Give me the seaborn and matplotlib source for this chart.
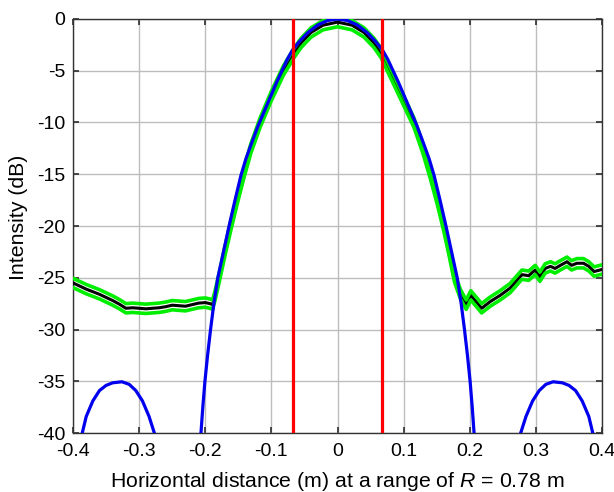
import numpy as np
import pandas as pd
import matplotlib
matplotlib.use("Agg")
import matplotlib.pyplot as plt
import seaborn as sns

# ---------------- data ----------------
# theoretical beam pattern (blue): main lobe and two sidelobes
blue_main_x = [-0.2105, -0.209, -0.2065, -0.2037, -0.2005, -0.1965, -0.192, -0.187,
               -0.181, -0.1725, -0.164, -0.155, -0.146, -0.1385, -0.130, -0.120,
               -0.110, -0.100, -0.092, -0.084, -0.076, -0.068, -0.058, -0.045,
               -0.030, -0.015, 0.0,
               0.015, 0.030, 0.045, 0.058, 0.068, 0.076, 0.084, 0.092,
               0.100, 0.110, 0.120, 0.130, 0.1385, 0.146, 0.155, 0.164,
               0.1725, 0.181, 0.187, 0.192, 0.1965, 0.2005, 0.2037, 0.2065,
               0.209, 0.2105]
blue_main_db = [-46.0, -43.0, -40.0, -37.5, -35.0, -32.5, -30.0, -27.5,
                -25.0, -22.5, -20.0, -17.5, -15.1, -13.5, -12.0, -10.3,
                -8.8, -7.3, -6.1, -5.0, -3.9, -3.0, -2.2, -1.32,
                -0.58, -0.15, 0.0,
                -0.15, -0.58, -1.32, -2.2, -3.0, -3.9, -5.0, -6.1,
                -7.3, -8.8, -10.3, -12.0, -13.5, -15.1, -17.5, -20.0,
                -22.5, -25.0, -27.5, -30.0, -32.5, -35.0, -37.5, -40.0,
                -43.0, -46.0]

blue_left_x = [-0.390, -0.386, -0.380, -0.370, -0.360, -0.350, -0.340, -0.326,
               -0.315, -0.305, -0.295, -0.285, -0.277, -0.273]
blue_left_db = [-41.5, -40.0, -38.4, -36.9, -35.9, -35.4, -35.15, -35.05,
                -35.3, -35.9, -36.9, -38.4, -40.0, -41.5]
blue_right_x = [0.273, 0.277, 0.285, 0.295, 0.305, 0.315, 0.326, 0.340,
                0.350, 0.360, 0.370, 0.380, 0.386, 0.390]
blue_right_db = [-41.5, -40.0, -38.4, -36.9, -35.9, -35.3, -35.05, -35.15,
                 -35.4, -35.9, -36.9, -38.4, -40.0, -41.5]

# measured mean intensity (black); green = mean +/- spread
meas_x = [-0.400, -0.390, -0.380, -0.370, -0.360, -0.350, -0.340, -0.330,
          -0.320, -0.310, -0.300, -0.290, -0.280, -0.270, -0.260, -0.250,
          -0.240, -0.230, -0.220, -0.210, -0.200, -0.193, -0.189, -0.1855,
          -0.179, -0.1705, -0.1615, -0.152, -0.142, -0.131, -0.117, -0.1005,
          -0.082, -0.066, -0.055, -0.040, -0.022, 0.000, 0.022, 0.040,
          0.055, 0.066, 0.0785, 0.097, 0.1155, 0.129, 0.1405, 0.151,
          0.1605, 0.169, 0.177, 0.186, 0.1946, 0.2016, 0.218, 0.231,
          0.246, 0.261, 0.274, 0.279, 0.289, 0.299, 0.306, 0.314,
          0.322, 0.329, 0.337, 0.347, 0.354, 0.362, 0.372, 0.380,
          0.388, 0.397, 0.400]
meas_db = [-25.5, -25.8, -26.1, -26.35, -26.6, -26.9, -27.2, -27.55,
           -27.95, -27.9, -27.95, -28.0, -27.95, -27.9, -27.8, -27.65,
           -27.7, -27.75, -27.6, -27.45, -27.4, -27.5, -27.6, -26.8,
           -25.0, -22.5, -20.0, -17.5, -15.0, -12.5, -10.0, -7.5,
           -5.0, -3.3, -2.3, -1.3, -0.6, -0.3, -0.6, -1.3,
           -2.3, -3.3, -5.0, -7.5, -10.0, -12.5, -15.0, -17.5,
           -20.0, -22.5, -25.0, -26.6, -27.6, -26.7, -27.95, -27.3,
           -26.7, -26.0, -25.05, -24.7, -24.8, -24.25, -24.9, -24.1,
           -23.9, -24.1, -23.8, -23.45, -23.8, -23.6, -23.6, -23.9,
           -24.4, -24.25, -24.2]
meas_spread_db = 0.45

# -3 dB beam-width markers (red)
red_x = [-0.068, 0.068]

x_ticks = [-0.4, -0.3, -0.2, -0.1, 0.0, 0.1, 0.2, 0.3, 0.4]
x_tick_labels = ["-0.4", "-0.3", "-0.2", "-0.1", "0", "0.1", "0.2", "0.3", "0.4"]
y_ticks = [0, -5, -10, -15, -20, -25, -30, -35, -40]
y_tick_labels = ["0", "-5", "-10", "-15", "-20", "-25", "-30", "-35", "-40"]

# ---------------- plotting ----------------
sns.set_theme(style="whitegrid")
plt.rcParams["font.family"] = ["Liberation Sans", "DejaVu Sans"]
plt.rcParams["axes.unicode_minus"] = False
plt.rcParams["mathtext.fontset"] = "custom"
plt.rcParams["mathtext.it"] = "Liberation Sans:italic"
plt.rcParams["mathtext.rm"] = "Liberation Sans"

fig = plt.figure(figsize=(6.14, 4.92), dpi=100)
ax = fig.add_axes([0.1189, 0.1199, 0.8616, 0.8415])
ax.set_facecolor("white")

meas = pd.DataFrame({"x": meas_x, "db": meas_db})
meas["upper"] = meas["db"] + meas_spread_db
meas["lower"] = meas["db"] - meas_spread_db

sns.lineplot(data=meas, x="x", y="db", color="black", linewidth=2.2,
             estimator=None, sort=False, ax=ax, zorder=3)
sns.lineplot(data=meas, x="x", y="upper", color="#00ee00", linewidth=2.6,
             estimator=None, sort=False, ax=ax, zorder=4)
sns.lineplot(data=meas, x="x", y="lower", color="#00ee00", linewidth=2.6,
             estimator=None, sort=False, ax=ax, zorder=4)

for bx, bd in [(blue_main_x, blue_main_db), (blue_left_x, blue_left_db),
               (blue_right_x, blue_right_db)]:
    sns.lineplot(x=bx, y=bd, color="#0000ee", linewidth=2.3,
                 estimator=None, sort=False, ax=ax, zorder=5)

for rx in red_x:
    ax.axvline(rx, color="#ff0000", linewidth=2.3, zorder=6)

ax.set_xlim(-0.4, 0.4)
ax.set_ylim(-40, 0)
ax.set_xticks(x_ticks)
ax.set_xticklabels(x_tick_labels)
ax.set_yticks(y_ticks)
ax.set_yticklabels(y_tick_labels)
ax.tick_params(axis="both", labelsize=14, direction="in", length=4,
               color="#333333", top=True, right=True, bottom=True, left=True,
               labelcolor="black")
ax.tick_params(axis="x", pad=7)
ax.tick_params(axis="y", pad=5.5)
ax.grid(True, color="#bdbdbd", linewidth=1.0)
for s in ax.spines.values():
    s.set_visible(True)
    s.set_color("#333333")
    s.set_linewidth(1.0)

ax.set_xlabel("Horizontal distance (m) at a range of $\\mathit{R}$ = 0.78 m",
              fontsize=15.3, color="black")
ax.set_ylabel("Intensity (dB)", fontsize=15.3, color="black")
ax.xaxis.set_label_coords(0.5, -0.089)
ax.yaxis.set_label_coords(-0.085, 0.522)

fig.savefig("out.png", dpi=100, facecolor="white")
